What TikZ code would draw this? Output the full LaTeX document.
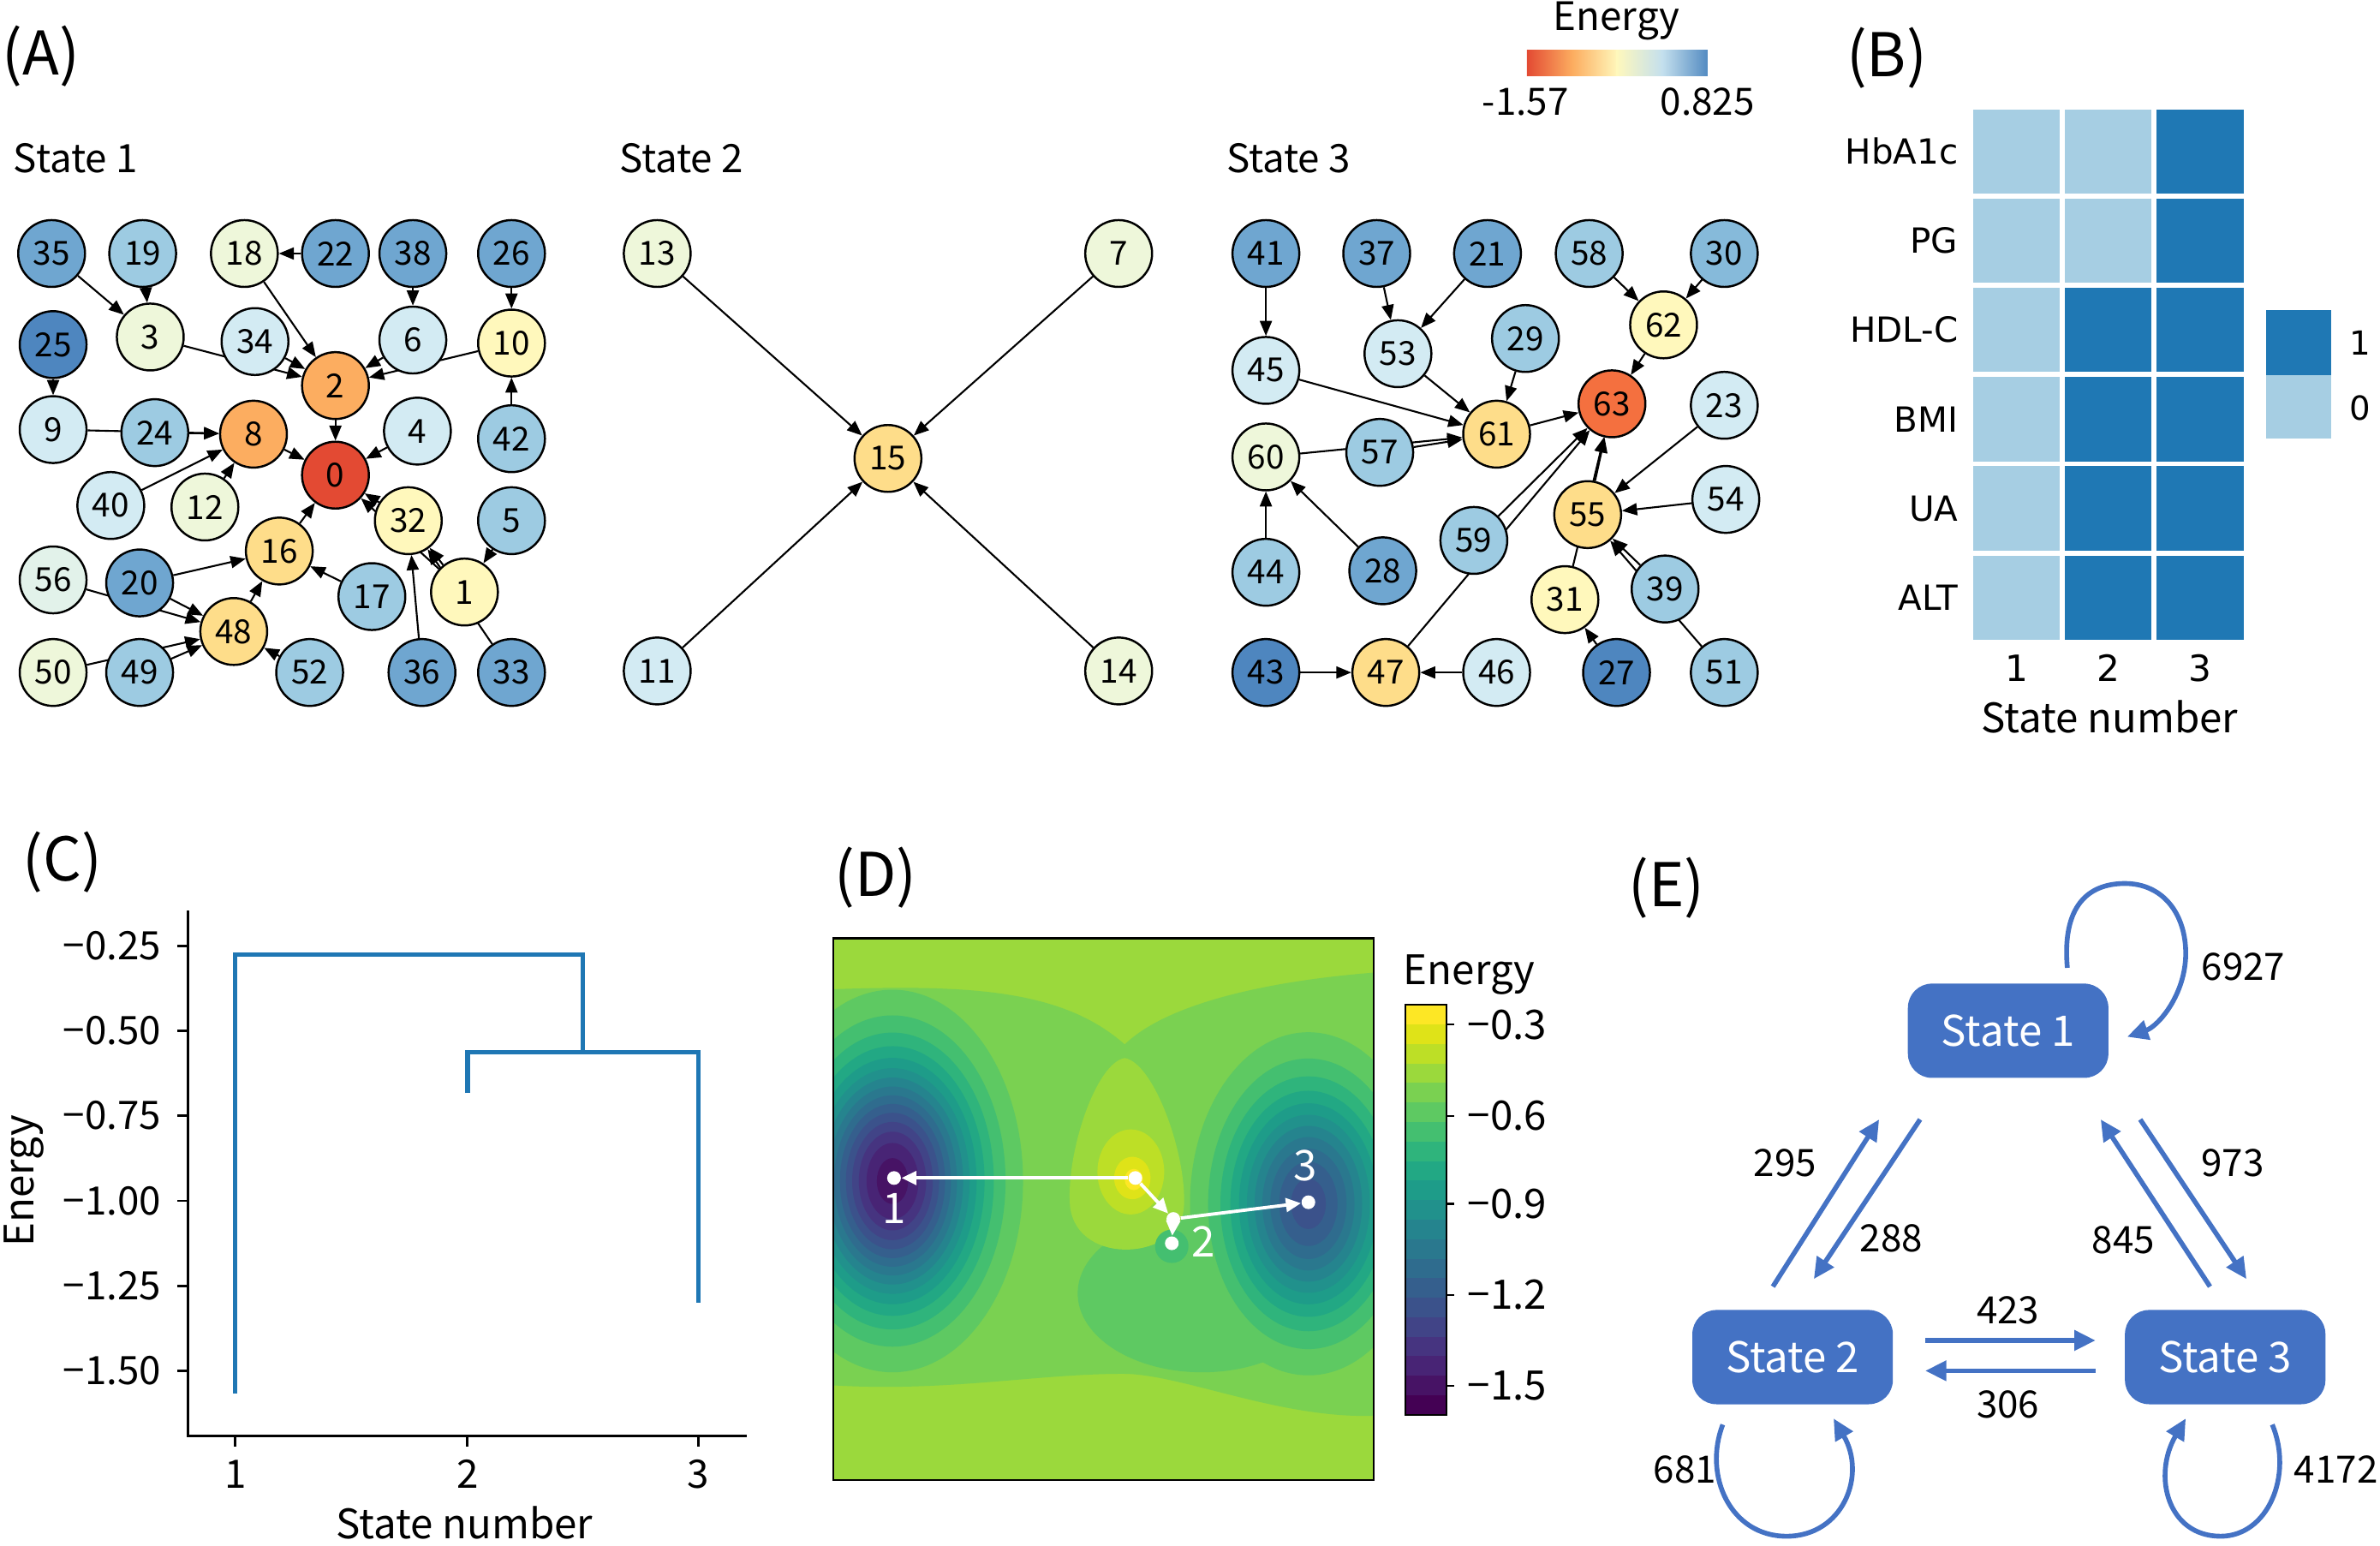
\documentclass[tikz,border=0pt]{standalone}
\usepackage{fontspec}
\setmainfont{Noto Sans CJK JP}
\newfontfamily\dejavu{DejaVu Sans}
\usetikzlibrary{arrows.meta,calc,backgrounds}

\newcommand\fsz[1]{\fontsize{#1}{#1}\selectfont}

% node energies (RdYlBu)
\definecolor{eA}{HTML}{4E86BF}
\definecolor{eB}{HTML}{6FA6D0}
\definecolor{eBC}{HTML}{86BADA}
\definecolor{eC}{HTML}{9DCBE2}
\definecolor{eD}{HTML}{D3EBF3}
\definecolor{eDE}{HTML}{E2F2EA}
\definecolor{eE}{HTML}{EEF7DA}
\definecolor{eF}{HTML}{FFF8BC}
\definecolor{eG}{HTML}{FEDD8A}
\definecolor{eH}{HTML}{FCAD60}
\definecolor{eI}{HTML}{F4703F}
\definecolor{eJ}{HTML}{E34A33}
% heatmap
\definecolor{hL}{HTML}{A6CEE3}
\definecolor{hD}{HTML}{1F78B4}
\definecolor{mplblue}{HTML}{1F77B4}
\definecolor{pptblue}{HTML}{4472C4}
% viridis
\definecolor{v0}{HTML}{440154}
\definecolor{v5}{HTML}{471365}
\definecolor{v10}{HTML}{482475}
\definecolor{v15}{HTML}{463480}
\definecolor{v20}{HTML}{414487}
\definecolor{v25}{HTML}{3B528B}
\definecolor{v30}{HTML}{355F8D}
\definecolor{v35}{HTML}{2F6C8E}
\definecolor{v40}{HTML}{2A788E}
\definecolor{v45}{HTML}{25848E}
\definecolor{v50}{HTML}{21918C}
\definecolor{v55}{HTML}{1E9C89}
\definecolor{v60}{HTML}{22A884}
\definecolor{v65}{HTML}{2FB47C}
\definecolor{v70}{HTML}{44BF70}
\definecolor{v75}{HTML}{5EC962}
\definecolor{v80}{HTML}{7AD151}
\definecolor{v85}{HTML}{9BD93C}
\definecolor{v90}{HTML}{BDDF26}
\definecolor{v95}{HTML}{DFE318}
\definecolor{v100}{HTML}{FDE725}

\begin{document}
\begin{tikzpicture}[x=0.017723cm, y=-0.017723cm,
  vtx/.style={circle, draw, line width=0.7pt, minimum size=0.78cm, inner sep=0pt, font=\fsz{11}},
  link/.style={line width=0.6pt, -{Triangle[length=5pt,width=4pt]}},
  panel/.style={font=\fsz{20}},
  lab/.style={font=\fsz{13}},
  dendro/.style={mplblue, line width=1.5pt},
  wdot/.style={circle, fill=white, inner sep=0pt, minimum size=0.16cm},
  warr/.style={white, line width=1.1pt, -{Triangle[length=5pt,width=4.5pt]}},
  stbox/.style={rounded corners=8pt, fill=pptblue, text=white, minimum width=2.34cm, minimum height=1.1cm, font=\fsz{14}},
  tr/.style={pptblue, line width=1.6pt, -{Triangle[length=7pt,width=6.5pt]}},
  num/.style={font=\fsz{12.5}}
  ]
  \useasboundingbox (0,0) rectangle (1568,1018);

  % (A) networks
  \node[panel] (pA) at (27,37) {(A)};
  \node[lab, anchor=west] (tS1) at (2,104) {State 1};
  \node[lab, anchor=west] (tS2) at (401,104) {State 2};
  \node[lab, anchor=west] (tS3) at (801,104) {State 3};

  \foreach \n/\x/\y/\c in {35/34/167/eB, 19/94/167/eC, 18/161/167/eE, 22/221/167/eB, 38/272/167/eB, 26/337/167/eB,
    25/35/227/eA, 3/99/222/eE, 34/168/225/eD, 6/272/224/eD, 10/337/226/eF,
    2/221/254/eH, 9/35/283/eD, 24/102/285/eC, 8/167/286/eH, 4/275/284/eD, 42/337/289/eC,
    0/221/313/eJ, 40/73/333/eD, 12/135/334/eE, 32/269/343/eF, 5/337/343/eC,
    16/184/363/eG, 56/35/382/eDE, 20/92/384/eB, 17/245/393/eC, 1/306/390/eF,
    48/154/416/eG, 50/35/443/eE, 49/92/443/eC, 52/204/443/eC, 36/278/443/eB, 33/337/443/eB,
    13/433/167/eE, 7/737/167/eE, 15/585/302/eG, 11/433/442/eD, 14/737/442/eE,
    41/834/167/eB, 37/907/167/eB, 21/980/167/eB, 58/1047/167/eC, 30/1136/167/eBC,
    45/834/244/eD, 53/921/233/eD, 29/1005/223/eC, 62/1096/214/eF, 63/1062/266/eI, 23/1136/267/eD,
    61/986/286/eG, 60/834/301/eE, 57/909/298/eC, 59/971/356/eC, 55/1046/339/eG, 54/1137/329/eD,
    44/834/377/eC, 28/911/376/eB, 31/1031/395/eF, 39/1097/388/eC,
    43/834/443/eA, 47/913/443/eG, 46/986/443/eD, 27/1065/443/eA, 51/1136/443/eC}
    \node[vtx, fill=\c] (n\n) at (\x,\y) {\n};

  \begin{pgfonlayer}{background}
    \foreach \a/\b in {35/3, 19/3, 22/18, 18/2, 3/2, 34/2, 38/6, 26/10, 42/10, 10/2, 6/2, 2/0, 4/0, 8/0,
      25/9, 9/8, 24/8, 40/8, 12/8, 20/16, 56/48, 20/48, 50/48, 49/48, 48/16, 52/48, 16/0, 32/0, 1/0,
      1/32, 33/32, 5/1, 36/32, 17/16,
      13/15, 7/15, 11/15, 14/15,
      41/45, 37/53, 21/53, 45/61, 53/61, 29/61, 60/61, 57/61, 61/63, 62/63, 58/62, 30/62, 47/63, 59/63,
      31/63, 55/63, 23/55, 54/55, 51/55, 39/55, 27/31, 44/60, 28/60, 43/47, 46/47}
      \draw[link] (n\a) -- (n\b);
  \end{pgfonlayer}

  % energy colour bar
  \node[lab] (eLab) at (1065,14) {Energy};
  \shade[left color=eJ, right color=eF, middle color=eH] (1006,33) rectangle (1066,50);
  \shade[left color=eF, right color=eA!85!eB, middle color=eC!60!white] (1065,33) rectangle (1125,50);
  \node[num] (eMin) at (1005,67) {-1.57};
  \node[num] (eMax) at (1125,67) {0.825};

  % (B) heatmap
  \node[panel] (pB) at (1243,38) {(B)};
  \foreach \lab/\a/\b/\c [count=\i from 0] in {HbA1c/hL/hL/hD, PG/hL/hL/hD, HDL-C/hL/hD/hD, BMI/hL/hD/hD, UA/hL/hD/hD, ALT/hL/hD/hD}{
    \fill[\a] (1300,{72+\i*58.8}) rectangle ++(57,55.5);
    \fill[\b] (1360.5,{72+\i*58.8}) rectangle ++(57,55.5);
    \fill[\c] (1421,{72+\i*58.8}) rectangle ++(57,55.5);
    \node[anchor=east, font=\dejavu\fsz{11.5}] (row\i) at (1297,{99.75+\i*58.8}) {\lab};
  }
  \fill[hD] (1493,204) rectangle (1536,247);
  \fill[hL] (1493,247) rectangle (1536,289);
  \node[anchor=west, font=\dejavu\fsz{11}] (k1) at (1541,226) {1};
  \node[anchor=west, font=\dejavu\fsz{11}] (k0) at (1541,269) {0};
  \foreach \x/\t in {1328.5/1, 1389/2, 1449.5/3}
    \node[font=\dejavu\fsz{12}] (bx\t) at (\x,440) {\t};
  \node[font=\fsz{13.5}] (bxl) at (1390,472) {State number};

  % (C) dendrogram
  \node[panel] (pC) at (41,568) {(C)};
  \draw[line width=0.8pt] (124,600) -- (124,946) -- (492,946);
  \foreach \l [count=\k from 0] in {0.25,0.50,0.75,1.00,1.25,1.50}{
    \draw[line width=0.8pt] (117,{623+\k*56}) -- (124,{623+\k*56});
    \node[anchor=east, font=\fsz{13}] (cy\k) at (113,{623+\k*56}) {−\l};
  }
  \foreach \x/\t in {155/1, 308/2, 460/3}{
    \draw[line width=0.8pt] (\x,946) -- (\x,953);
    \node[font=\fsz{13}] (cx\t) at (\x,971) {\t};
  }
  \node[font=\fsz{13.5}, rotate=90] (cyl) at (16,778) {Energy};
  \node[font=\fsz{13.5}] (cxl) at (306,1003) {State number};
  \draw[dendro] (155,918) -- (155,629) -- (384,629) -- (384,693);
  \draw[dendro] (308,720) -- (308,693) -- (460,693) -- (460,858);

  % (D) energy landscape
  \node[panel] (pD) at (577,578) {(D)};
  \begin{scope}
    \clip (549,618) rectangle (905,975);
    \fill[v85] (549,618) rectangle (905,975);
    \fill[v80] (540,652) .. controls (640,648) and (700,652) .. (741,688)
      .. controls (770,660) and (840,645) .. (915,640) -- (915,932)
      .. controls (850,938) and (780,905) .. (740,905)
      .. controls (680,905) and (620,918) .. (540,912) -- cycle;
    \fill[v75] (792,852) ellipse [x radius=82, y radius=52];
    \foreach \c/\f in {v75/1.0, v70/0.866, v65/0.776, v60/0.705, v55/0.644, v50/0.59, v45/0.541, v40/0.494,
      v35/0.448, v30/0.403, v25/0.357, v20/0.309, v15/0.258, v10/0.199, v5/0.12}
      \fill[\c] (588,778) ellipse [x radius={86*\f}, y radius={126*\f}];
    \foreach \c/\f in {v75/1.0, v70/0.847, v65/0.743, v60/0.659, v55/0.586, v50/0.519, v45/0.454, v40/0.389,
      v35/0.322, v30/0.246, v25/0.147}
      \fill[\c] (862,793) ellipse [x radius={78*\f}, y radius={113*\f}];
    \fill[v85] (741,697) .. controls (760,700) and (782,760) .. (780,795)
      .. controls (778,830) and (710,835) .. (705,795)
      .. controls (702,760) and (722,700) .. (741,697);
    \fill[v90] (745,772) ellipse [x radius=22, y radius=28];
    \fill[v95] (746,776) ellipse [x radius=12, y radius=14];
    \fill[v100] (747,777) ellipse [x radius=6, y radius=7];
    \fill[v70] (772,821) circle [radius=11];
  \end{scope}
  \draw[line width=0.8pt] (549,618) rectangle (905,975);

  \node[wdot] (d1) at (589,776) {};
  \node[wdot] (dp) at (748,776) {};
  \node[wdot] (da) at (773,803) {};
  \node[wdot] (d2) at (772,819) {};
  \node[wdot] (d3) at (862,792) {};
  \draw[warr] (dp) -- (d1);
  \draw[warr] (dp) -- (da);
  \draw[warr] (da) -- (d3);
  \draw[warr] (da) -- (d2);
  \node[white, font=\fsz{14}] (t1) at (589,796) {1};
  \node[white, font=\fsz{14}] (t2) at (793,818) {2};
  \node[white, font=\fsz{14}] (t3) at (860,768) {3};

  % viridis colour bar
  \foreach \k [count=\i from 0] in {0,5,...,100}
    \fill[v\k] (926,{932-(\i+1)*12.857}) rectangle (953,{932-\i*12.857});
  \draw[line width=0.6pt] (926,662) rectangle (953,932);
  \foreach \v/\y in {0.3/675, 0.6/735, 0.9/793, 1.2/853, 1.5/913}{
    \draw[line width=0.6pt] (953,\y) -- (958,\y);
    \node[anchor=west, font=\fsz{13.5}] (dv\y) at (960,\y) {−\v};
  }
  \node[font=\fsz{13.5}] (dl) at (968,642) {Energy};

  % (E) transitions
  \node[panel] (pE) at (1098,585) {(E)};
  \node[stbox] (s1) at (1323,679) {State 1};
  \node[stbox] (s2) at (1181,894) {State 2};
  \node[stbox] (s3) at (1466,894) {State 3};

  \draw[tr] ($(s2.north)+(-13,-15)$) -- ($(s1.south)+(-85,27)$);
  \draw[tr] ($(s1.south)+(-58,27)$) -- ($(s2.north)+(14,-20)$);
  \draw[tr] ($(s3.north)+(-10,-15)$) -- ($(s1.south)+(61,27)$);
  \draw[tr] ($(s1.south)+(87,27)$) -- ($(s3.north)+(14,-20)$);
  \draw[tr] ($(s2.east)+(21,-11)$) -- ($(s3.west)+(-19,-11)$);
  \draw[tr] ($(s3.west)+(-19,9)$) -- ($(s2.east)+(21,9)$);

  \draw[tr] ($(s1.north)+(39,-10)$) .. controls (1358,592) and (1380,582) .. (1400,582)
    .. controls (1425,582) and (1440,602) .. (1440,628)
    .. controls (1440,655) and (1422,676) .. ($(s1.east)+(12,4)$);
  \draw[tr] ($(s2.south)+(-46,13)$) .. controls (1122,972) and (1140,1012) .. (1177,1012)
    .. controls (1214,1012) and (1230,972) .. ($(s2.south)+(27,9)$);
  \draw[tr] ($(s3.south)+(31,13)$) .. controls (1511,972) and (1494,1012) .. (1463,1012)
    .. controls (1428,1012) and (1418,972) .. ($(s3.south)+(-26,9)$);

  \node[num] (l295) at (1176,766) {295};
  \node[num] (l288) at (1246,816) {288};
  \node[num] (l973) at (1471,766) {973};
  \node[num] (l845) at (1399,817) {845};
  \node[num] (l423) at (1323,863) {423};
  \node[num] (l306) at (1323,925) {306};
  \node[num] (l6927) at (1478,637) {6927};
  \node[num] (l681) at (1110,968) {681};
  \node[num] (l4172) at (1539,968) {4172};
\end{tikzpicture}
\end{document}
